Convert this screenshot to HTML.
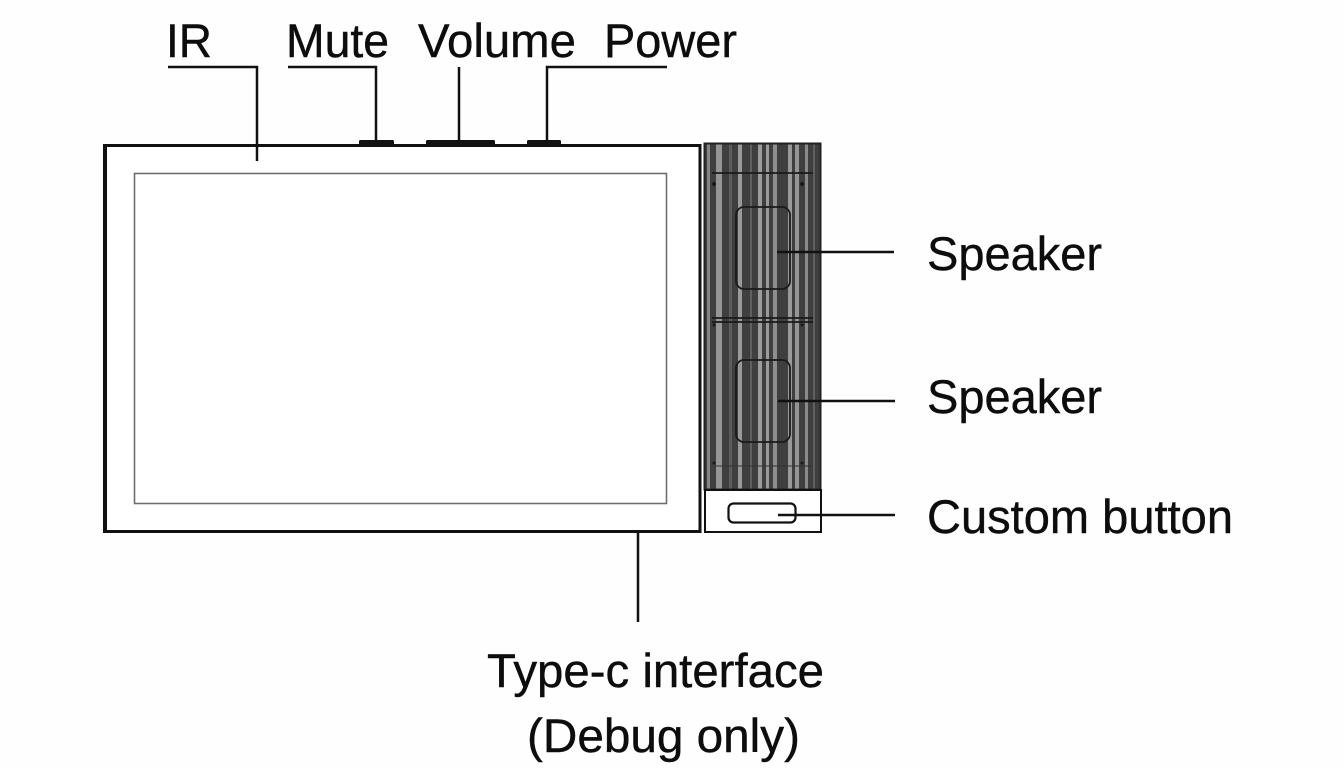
<!DOCTYPE html>
<html>
<head>
<meta charset="utf-8">
<style>
  html,body{margin:0;padding:0;background:#fefefe;}
  svg{display:block;}
  text{font-family:"Liberation Sans", Arial, sans-serif;font-size:47px;fill:#0d0d0d;stroke:#0d0d0d;stroke-width:0.4;}
</style>
</head>
<body>
<svg width="1344" height="768" viewBox="0 0 1344 768" xmlns="http://www.w3.org/2000/svg">
  <rect x="0" y="0" width="1344" height="768" fill="#fefefe"/>

  <!-- Top labels -->
  <text x="166" y="57" textLength="46" lengthAdjust="spacingAndGlyphs">IR</text>
  <text x="286" y="57" textLength="103" lengthAdjust="spacingAndGlyphs">Mute</text>
  <text x="418" y="57" textLength="158" lengthAdjust="spacingAndGlyphs">Volume</text>
  <text x="604" y="57" textLength="133" lengthAdjust="spacingAndGlyphs">Power</text>

  <!-- Top leader lines -->
  <g stroke="#111" stroke-width="2.5" fill="none">
    <polyline points="288,67 376,67 376,142"/>
    <line x1="459" y1="67" x2="459" y2="142"/>
    <polyline points="667,67 547,67 547,142"/>
  </g>
  <!-- top buttons -->
  <g fill="#111">
    <rect x="359" y="140" width="35" height="5" rx="1.5"/>
    <rect x="426" y="140" width="69" height="5" rx="1.5"/>
    <rect x="527" y="140" width="34" height="5" rx="1.5"/>
  </g>

  <!-- Main frame -->
  <rect x="105" y="145.5" width="595" height="386" fill="#fff" stroke="#111" stroke-width="3"/>
  <rect x="103" y="144" width="4" height="389" fill="#111"/>
  <!-- IR leader (drawn over frame) -->
  <polyline points="168,67 257,67 257,161" stroke="#111" stroke-width="2.5" fill="none"/>
  <!-- Inner screen -->
  <rect x="134.5" y="173.5" width="532" height="330" fill="#fff" stroke="#6e6e6e" stroke-width="1.6"/>

  <!-- Speaker panel -->
  <rect x="704" y="143" width="117" height="347" fill="#3f3f3f"/>
  <g>
    <rect x="707" y="143" width="3" height="347" fill="#858585"/>
    <rect x="716" y="143" width="6" height="347" fill="#959595"/>
    <rect x="729" y="143" width="3" height="347" fill="#5c5c5c"/>
    <rect x="738" y="143" width="4" height="347" fill="#9a9a9a"/>
    <rect x="750" y="143" width="2" height="347" fill="#606060"/>
    <rect x="758" y="143" width="4" height="347" fill="#9c9c9c"/>
    <rect x="766" y="143" width="3" height="347" fill="#9a9a9a"/>
    <rect x="773" y="143" width="4" height="347" fill="#8e8e8e"/>
    <rect x="788" y="143" width="4" height="347" fill="#9a9a9a"/>
    <rect x="795" y="143" width="4" height="347" fill="#959595"/>
    <rect x="805" y="143" width="3" height="347" fill="#8a8a8a"/>
    <rect x="813" y="143" width="2" height="347" fill="#606060"/>
  </g>
  <rect x="704.5" y="143.5" width="116" height="346" fill="none" stroke="#222" stroke-width="2"/>
  <!-- speaker details -->
  <g stroke="#1a1a1a" fill="none" stroke-width="1.8">
    <line x1="712" y1="173" x2="813" y2="173"/>
    <line x1="712" y1="318" x2="813" y2="318"/>
    <line x1="712" y1="322" x2="813" y2="322"/>
    <line x1="714" y1="466" x2="811" y2="466" stroke-width="1" stroke="#333"/>
    <rect x="736" y="207" width="54" height="82" rx="8"/>
    <rect x="736" y="360" width="54" height="82" rx="8"/>
  </g>
  <g fill="#1a1a1a">
    <circle cx="714" cy="184" r="2"/>
    <circle cx="802" cy="184" r="2"/>
    <circle cx="714" cy="325" r="1.5"/>
    <circle cx="802" cy="325" r="1.5"/>
    <circle cx="714" cy="463" r="1.5"/>
    <circle cx="802" cy="463" r="1.5"/>
  </g>
  <!-- custom button area -->
  <rect x="705" y="490" width="116" height="42" fill="#fff" stroke="#111" stroke-width="2"/>
  <rect x="728.5" y="503.5" width="67" height="19" rx="5" fill="none" stroke="#111" stroke-width="2.2"/>

  <!-- right leader lines -->
  <g stroke="#111" stroke-width="2.5">
    <line x1="777" y1="252" x2="894" y2="252"/>
    <line x1="778" y1="401" x2="895" y2="401"/>
    <line x1="778" y1="515" x2="895" y2="515"/>
  </g>

  <!-- right labels -->
  <text x="927" y="270" textLength="175" lengthAdjust="spacingAndGlyphs">Speaker</text>
  <text x="927" y="413" textLength="175" lengthAdjust="spacingAndGlyphs">Speaker</text>
  <text x="927" y="533" textLength="306" lengthAdjust="spacingAndGlyphs">Custom button</text>

  <!-- bottom leader -->
  <line x1="638" y1="533" x2="638" y2="622" stroke="#111" stroke-width="2.5"/>
  <text x="487" y="687" textLength="337" lengthAdjust="spacingAndGlyphs">Type-c interface</text>
  <text x="527" y="752" textLength="273" lengthAdjust="spacingAndGlyphs">(Debug only)</text>
</svg>
</body>
</html>
